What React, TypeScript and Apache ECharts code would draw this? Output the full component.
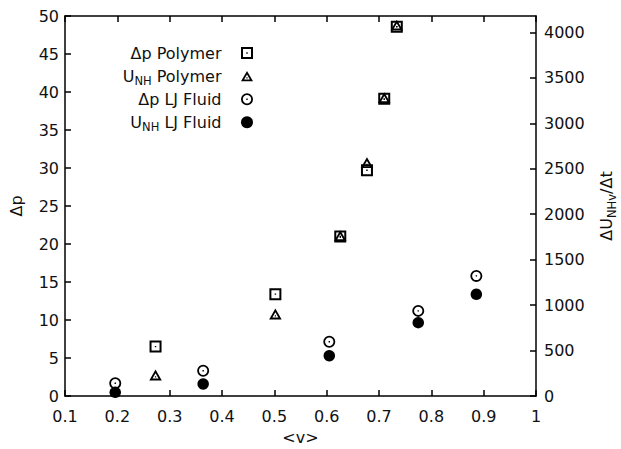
import React, { useEffect, useRef } from 'react';
import * as echarts from 'echarts';

// ---- data ----
const seriesNames = ['Δp Polymer', 'UNH Polymer', 'Δp LJ Fluid', 'UNH LJ Fluid'];
const polymerDp: number[][] = [
  [0.273, 6.5], [0.502, 13.4], [0.626, 21.0], [0.677, 29.7], [0.71, 39.1], [0.734, 48.6],
];
const polymerUnh: number[][] = [
  [0.273, 231], [0.502, 902], [0.626, 1764], [0.677, 2567], [0.71, 3282], [0.734, 4080],
];
const ljDp: number[][] = [
  [0.196, 1.67], [0.364, 3.33], [0.605, 7.14], [0.775, 11.2], [0.886, 15.8],
];
const ljUnh: number[][] = [
  [0.196, 40], [0.364, 132], [0.605, 443], [0.775, 807], [0.886, 1119],
];
const xRange = [0.1, 1];
const xStep = 0.1;
const yLeftRange = [0, 50];
const yLeftStep = 5;
const yRightRange = [0, 4180];
const yRightStep = 500;

const FONT = 'DejaVu Sans';
const TXT = '#111';

const SQUARE = 'path://M0,0H12V12H0Z M2,2V10H10V2Z M5.3,5.3H6.7V6.7H5.3Z';
const TRIANGLE = 'path://M6,0L12,10.4L0,10.4Z M6,3.6L3.11,8.6L8.89,8.6Z M5.4,6.33H6.6V7.53H5.4Z';
const RING = 'path://M0,6A6,6 0 1,1 12,6A6,6 0 1,1 0,6Z M1.8,6A4.2,4.2 0 1,0 10.2,6A4.2,4.2 0 1,0 1.8,6Z M5.3,5.3H6.7V6.7H5.3Z';
const icons = [SQUARE, TRIANGLE, RING, 'circle'];

const rich = {
  t: { fontSize: 16, fontFamily: FONT, color: TXT, lineHeight: 16, verticalAlign: 'middle' },
  s: { fontSize: 11.5, fontFamily: FONT, color: TXT, lineHeight: 11, padding: [10, 0, 0, 0], verticalAlign: 'middle' },
  g: { width: 14.5, lineHeight: 20, verticalAlign: 'middle' },
};

const fmtLegend = (name: string) =>
  name.startsWith('UNH')
    ? `{t|U}{s|NH}{t|${name.slice(3)}}{g| }`
    : `{t|${name}}{g| }`;

export default function App() {
  const ref = useRef<HTMLDivElement>(null);
  useEffect(() => {
    if (!ref.current) return;
    const chart = echarts.init(ref.current, undefined, { renderer: 'svg' });
    const axisLine = { show: true, onZero: false, lineStyle: { color: '#000', width: 1.5 } };
    const axisTick = { show: true, inside: true, length: 6, lineStyle: { color: '#000', width: 1.5 } };
    const label = { color: TXT, fontSize: 16, fontFamily: FONT };
    const item = { color: '#000', opacity: 1 };
    chart.setOption({
      animation: false,
      backgroundColor: '#fff',
      grid: { left: 65, right: 85, top: 16, bottom: 53, containLabel: false, outerBoundsMode: 'none' },
      legend: {
        orient: 'vertical',
        right: 363,
        top: 40,
        align: 'right',
        itemWidth: 12,
        itemHeight: 12,
        itemGap: 4.1,
        selectedMode: false,
        data: seriesNames.map((n, i) => ({ name: n, icon: icons[i] })),
        formatter: fmtLegend,
        textStyle: { fontFamily: FONT, fontSize: 16, color: TXT, rich },
      },
      xAxis: [
        {
          type: 'value', min: xRange[0], max: xRange[1], interval: xStep, position: 'bottom',
          axisLine, axisTick, splitLine: { show: false },
          axisLabel: { ...label, margin: 12, formatter: (v: number) => String(Math.round(v * 10) / 10) },
          name: '<v>', nameLocation: 'middle', nameGap: 33,
          nameTextStyle: { ...label },
        },
        {
          type: 'value', min: xRange[0], max: xRange[1], interval: xStep, position: 'top',
          axisLine, axisTick, splitLine: { show: false }, axisLabel: { show: false },
        },
      ],
      yAxis: [
        {
          type: 'value', min: yLeftRange[0], max: yLeftRange[1], interval: yLeftStep, position: 'left',
          axisLine, axisTick, splitLine: { show: false },
          axisLabel: { ...label, margin: 6, formatter: (v: number) => String(v) },
          name: 'Δp', nameLocation: 'middle', nameGap: 41,
          nameTextStyle: { ...label },
        },
        {
          type: 'value', min: yRightRange[0], max: yRightRange[1], interval: yRightStep, position: 'right',
          axisLine, axisTick, splitLine: { show: false },
          axisLabel: { ...label, margin: 8, showMaxLabel: false, formatter: (v: number) => String(v) },
          name: '{t|ΔU}{s|NHv}{t|/Δt}', nameLocation: 'middle', nameGap: 62,
          nameTextStyle: { ...label, rich },
        },
      ],
      series: [
        { name: seriesNames[0], type: 'scatter', yAxisIndex: 0, data: polymerDp, symbol: SQUARE, symbolSize: 12, itemStyle: item },
        { name: seriesNames[1], type: 'scatter', yAxisIndex: 1, data: polymerUnh, symbol: TRIANGLE, symbolSize: [12.5, 10.8], itemStyle: item },
        { name: seriesNames[2], type: 'scatter', yAxisIndex: 0, data: ljDp, symbol: RING, symbolSize: 12, itemStyle: item },
        { name: seriesNames[3], type: 'scatter', yAxisIndex: 1, data: ljUnh, symbol: 'circle', symbolSize: 11.5, itemStyle: item },
      ],
    });
    return () => chart.dispose();
  }, []);
  return <div ref={ref} style={{ position: 'fixed', left: 0, top: 0, width: 621, height: 449, background: '#fff' }} />;
}
